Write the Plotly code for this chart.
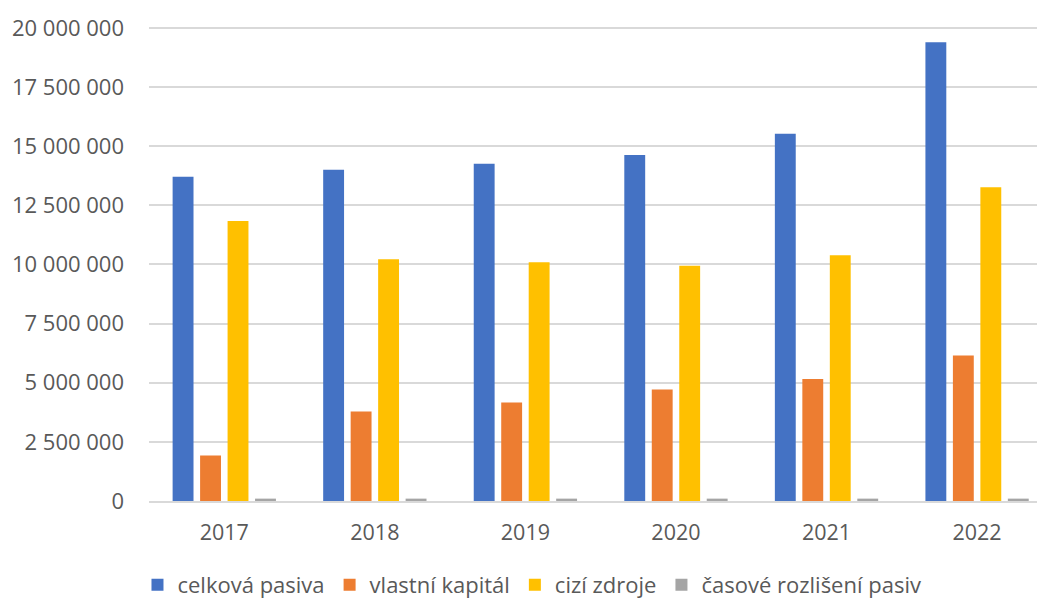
import plotly.graph_objects as go

years = ["2017", "2018", "2019", "2020", "2021", "2022"]

celkova_pasiva = [13710000, 14000000, 14260000, 14630000, 15520000, 19390000]
vlastni_kapital = [1920000, 3780000, 4160000, 4710000, 5160000, 6150000]
cizi_zdroje = [11830000, 10220000, 10090000, 9940000, 10390000, 13260000]
casove_rozliseni = [100000, 100000, 100000, 100000, 100000, 100000]

tick_vals = [0, 2500000, 5000000, 7500000, 10000000, 12500000, 15000000, 17500000, 20000000]
tick_text = ["0", "2 500 000", "5 000 000", "7 500 000", "10 000 000",
             "12 500 000", "15 000 000", "17 500 000", "20 000 000"]

series = [
    ("celková pasiva", celkova_pasiva, "#4472C4"),
    ("vlastní kapitál", vlastni_kapital, "#ED7D31"),
    ("cizí zdroje", cizi_zdroje, "#FFC000"),
    ("časové rozlišení pasiv", casove_rozliseni, "#A5A5A5"),
]

fig = go.Figure()
for name, values, color in series:
    fig.add_trace(go.Bar(
        name=name, x=years, y=values,
        marker=dict(color=color, line=dict(width=0)),
    ))

text_color = "#595959"
font_family = "Open Sans, Lato, sans-serif"

fig.update_layout(
    width=1037, height=598,
    margin=dict(l=149, r=0, t=16, b=97, autoexpand=False),
    paper_bgcolor="white", plot_bgcolor="white",
    barmode="group", bargap=0.27, bargroupgap=0.24,
    font=dict(family=font_family, color=text_color, size=22),
    xaxis=dict(
        type="category", range=[-0.5, 5.398],
        showgrid=False, showline=True, linecolor="#D9D9D9", linewidth=1.5,
        ticks="", tickfont=dict(size=21.5, color=text_color),
        ticklabelstandoff=11,
    ),
    yaxis=dict(
        range=[0, 20500000],
        tickvals=tick_vals, ticktext=tick_text,
        showgrid=True, gridcolor="#D9D9D9", gridwidth=1.5,
        zeroline=False, showline=False, ticks="",
        tickfont=dict(size=22, color=text_color),
        ticklabelstandoff=24,
    ),
    legend=dict(
        orientation="h", xref="container", yref="container",
        x=0.513, xanchor="center", y=0.022, yanchor="middle",
        font=dict(size=22, color=text_color),
        itemwidth=30, traceorder="normal",
    ),
)

fig.write_html("out.html")
